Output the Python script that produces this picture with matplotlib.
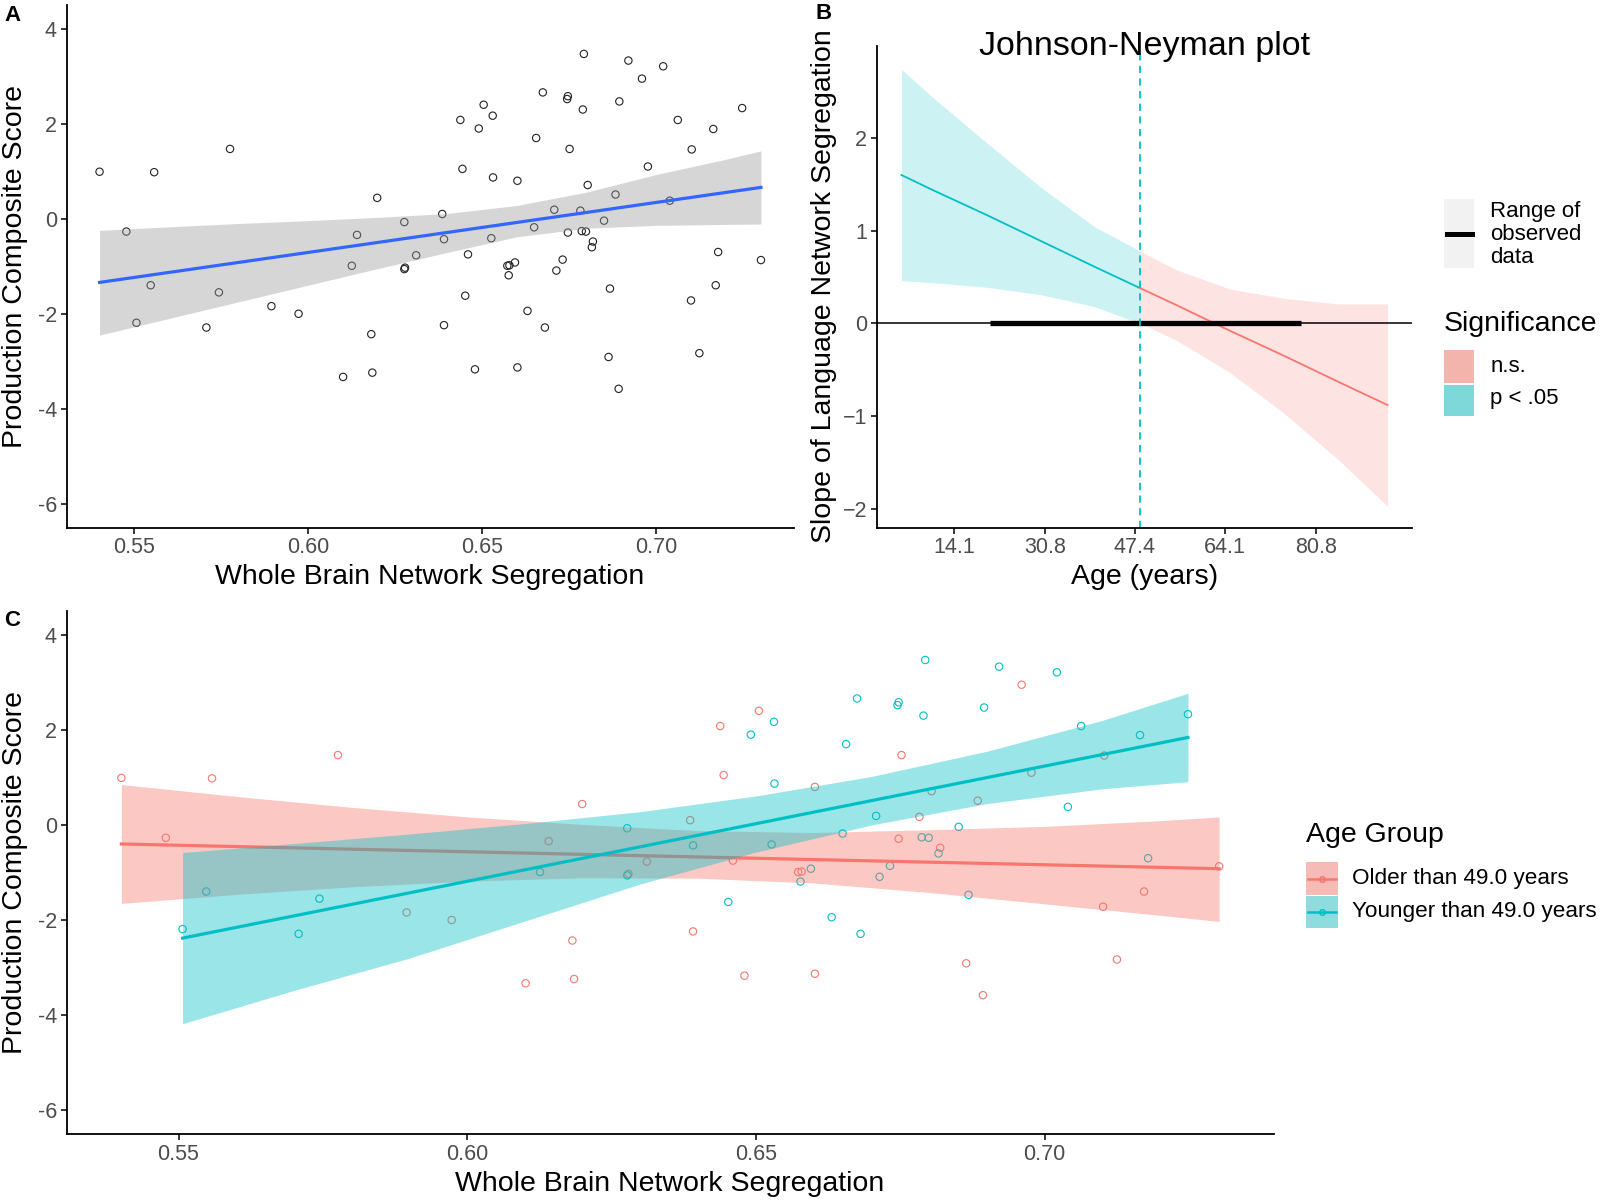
import numpy as np
import matplotlib.pyplot as plt
from matplotlib.patches import Rectangle
from matplotlib.lines import Line2D

plt.rcParams['font.family'] = ['Liberation Sans', 'DejaVu Sans']

# ---- data ----
# whole brain segregation, production composite score, age group
seg = [0.5401, 0.5558, 0.5776, 0.5478, 0.5548, 0.5507, 0.5744, 0.5708, 0.5895, 0.5973,
       0.6199, 0.6141, 0.6126, 0.6277, 0.6311, 0.6277, 0.6279, 0.6386, 0.6391, 0.6391,
       0.6182, 0.6185, 0.6101, 0.6438, 0.6444, 0.6452, 0.6793, 0.6921, 0.7021, 0.6960,
       0.6675, 0.6747, 0.6745, 0.6895, 0.6790, 0.7248, 0.6505, 0.6531, 0.6491, 0.7063,
       0.7165, 0.6656, 0.6752, 0.7103, 0.6977, 0.6532, 0.6602, 0.6804, 0.6884, 0.7040,
       0.6708, 0.6783, 0.6650, 0.6851, 0.6527, 0.6747, 0.6787, 0.6799, 0.6819, 0.6816,
       0.6460, 0.6595, 0.6579, 0.6573, 0.6577, 0.6732, 0.6714, 0.7179, 0.7302, 0.7172,
       0.7101, 0.6868, 0.6631, 0.6681, 0.7125, 0.6864, 0.6480, 0.6602, 0.6893]
score = [0.99, 0.98, 1.47, -0.27, -1.40, -2.19, -1.55, -2.29, -1.84, -2.00,
         0.44, -0.34, -0.99, -0.07, -0.77, -1.06, -1.03, 0.10, -0.43, -2.24,
         -2.43, -3.24, -3.33, 2.08, 1.05, -1.62, 3.47, 3.33, 3.21, 2.95,
         2.66, 2.58, 2.52, 2.47, 2.30, 2.33, 2.40, 2.17, 1.90, 2.08,
         1.89, 1.70, 1.47, 1.46, 1.10, 0.87, 0.80, 0.71, 0.51, 0.38,
         0.19, 0.17, -0.18, -0.04, -0.41, -0.29, -0.26, -0.27, -0.48, -0.60,
         -0.75, -0.92, -0.98, -0.99, -1.19, -0.86, -1.09, -0.70, -0.87, -1.40,
         -1.72, -1.47, -1.94, -2.29, -2.83, -2.91, -3.17, -3.13, -3.58]
group = ['O', 'O', 'O', 'O', 'Y', 'Y', 'Y', 'Y', 'O', 'O',
         'O', 'O', 'Y', 'Y', 'O', 'Y', 'O', 'O', 'Y', 'O',
         'O', 'O', 'O', 'O', 'O', 'Y', 'Y', 'Y', 'Y', 'O',
         'Y', 'Y', 'Y', 'Y', 'Y', 'Y', 'O', 'Y', 'Y', 'Y',
         'Y', 'Y', 'O', 'O', 'O', 'Y', 'O', 'O', 'O', 'Y',
         'Y', 'O', 'Y', 'Y', 'Y', 'O', 'Y', 'Y', 'O', 'Y',
         'O', 'Y', 'O', 'O', 'Y', 'Y', 'Y', 'Y', 'O', 'O',
         'O', 'Y', 'Y', 'Y', 'O', 'O', 'O', 'O', 'O']

# panel A fit and confidence band
fitA_x = [0.5401, 0.7302]
fitA_y = [-1.34, 0.66]
bandA_x = [0.5401, 0.56, 0.58, 0.60, 0.62, 0.64, 0.66, 0.68, 0.70, 0.72, 0.7302]
bandA_hi = [-0.245, -0.17, -0.10, -0.04, 0.03, 0.11, 0.28, 0.56, 0.93, 1.25, 1.43]
bandA_lo = [-2.45, -2.10, -1.75, -1.40, -1.05, -0.71, -0.38, -0.20, -0.14, -0.12, -0.11]

# panel C fits per age group
fitO_x = [0.5401, 0.7302]
fitO_y = [-0.40, -0.92]
bandO_x = [0.5401, 0.56, 0.58, 0.60, 0.62, 0.64, 0.66, 0.68, 0.70, 0.72, 0.7302]
bandO_hi = [0.85, 0.60, 0.37, 0.17, 0.01, -0.12, -0.16, -0.10, -0.03, 0.09, 0.17]
bandO_lo = [-1.65, -1.46, -1.30, -1.18, -1.11, -1.12, -1.22, -1.42, -1.66, -1.90, -2.03]
fitY_x = [0.5507, 0.7248]
fitY_y = [-2.38, 1.84]
bandY_x = [0.5507, 0.57, 0.59, 0.61, 0.63, 0.65, 0.67, 0.69, 0.71, 0.7248]
bandY_hi = [-0.58, -0.39, -0.19, 0.03, 0.28, 0.61, 1.02, 1.55, 2.20, 2.77]
bandY_lo = [-4.18, -3.48, -2.80, -2.02, -1.24, -0.57, 0.00, 0.45, 0.76, 0.91]

# panel B Johnson-Neyman
age = [4.3, 10, 20, 30, 40, 48.4, 55, 65, 75, 85, 94.1]
slope = [1.60, 1.44, 1.17, 0.89, 0.61, 0.38, 0.20, -0.08, -0.35, -0.63, -0.88]
slope_hi = [2.74, 2.44, 1.95, 1.47, 1.04, 0.78, 0.58, 0.37, 0.27, 0.21, 0.21]
slope_lo = [0.46, 0.44, 0.39, 0.31, 0.18, 0.00, -0.18, -0.53, -0.97, -1.47, -1.97]
jn_age = 48.4
obs_range = [20.7, 78.1]
age_ticks = [14.1, 30.8, 47.4, 64.1, 80.8]

RED = '#F8766D'
CYAN = '#00BFC4'
TICKCOL = '#4D4D4D'

W, H = 1603, 1202
fig = plt.figure(figsize=(W / 100, H / 100), dpi=100)


def rect(l, t, r, b):
    return [l / W, 1 - b / H, (r - l) / W, (b - t) / H]


def ftext(x, y, s, **kw):
    return fig.text(x / W, 1 - y / H, s, **kw)


def frect(l, t, r, b, **kw):
    fig.add_artist(Rectangle((l / W, 1 - b / H), (r - l) / W, (b - t) / H,
                             transform=fig.transFigure, **kw))


def fline(x0, x1, y, **kw):
    fig.add_artist(Line2D([x0 / W, x1 / W], [1 - y / H, 1 - y / H],
                          transform=fig.transFigure, **kw))


def style(ax):
    for s in ['top', 'right']:
        ax.spines[s].set_visible(False)
    for s in ['left', 'bottom']:
        ax.spines[s].set_linewidth(1.3)
    ax.tick_params(length=4, width=1.1, pad=3, labelsize=15.5, labelcolor=TICKCOL)


seg = np.array(seg)
score = np.array(score)
isO = np.array([g == 'O' for g in group])

# ---- panel A ----
axA = fig.add_axes(rect(66.5, 5, 794, 527.5))
axA.scatter(seg, score, s=28, facecolors='none', edgecolors='#222222', linewidths=0.8, zorder=1)
axA.fill_between(bandA_x, bandA_lo, bandA_hi, color='#999999', alpha=0.4, linewidth=0, zorder=2)
axA.plot(fitA_x, fitA_y, color='#3366FF', linewidth=2.3, zorder=3)
axA.set_xlim(0.5306, 0.7397)
axA.set_ylim(-6.5, 4.5)
axA.set_xticks([0.55, 0.60, 0.65, 0.70], ['0.55', '0.60', '0.65', '0.70'])
axA.set_yticks([-6, -4, -2, 0, 2, 4], ['-6', '-4', '-2', '0', '2', '4'])
style(axA)

# ---- panel B ----
axB = fig.add_axes(rect(877, 46, 1412, 527.5))
axB.fill_between(age[:6], slope_lo[:6], slope_hi[:6], color=CYAN, alpha=0.2, linewidth=0)
axB.fill_between(age[5:], slope_lo[5:], slope_hi[5:], color=RED, alpha=0.2, linewidth=0)
axB.plot(age[:6], slope[:6], color=CYAN, linewidth=1.3)
axB.plot(age[5:], slope[5:], color=RED, linewidth=1.3)
axB.axhline(0, color='black', linewidth=1.1)
axB.plot(obs_range, [0, 0], color='black', linewidth=3.8, solid_capstyle='butt')
axB.axvline(jn_age, color=CYAN, linewidth=1.3, linestyle=(0, (4, 3)))
axB.set_xlim(-0.2, 98.6)
axB.set_ylim(-2.2, 2.99)
axB.set_xticks(age_ticks, ['14.1', '30.8', '47.4', '64.1', '80.8'])
axB.set_yticks([-2, -1, 0, 1, 2], ['\u22122', '\u22121', '0', '1', '2'])
style(axB)

# ---- panel C ----
axC = fig.add_axes(rect(66.5, 611, 1274, 1134))
axC.scatter(seg[isO], score[isO], s=28, facecolors='none', edgecolors=RED, linewidths=0.8, zorder=1)
axC.scatter(seg[~isO], score[~isO], s=28, facecolors='none', edgecolors=CYAN, linewidths=0.8, zorder=1)
axC.fill_between(bandO_x, bandO_lo, bandO_hi, color=RED, alpha=0.4, linewidth=0, zorder=2)
axC.plot(fitO_x, fitO_y, color=RED, linewidth=2.3, zorder=3)
axC.fill_between(bandY_x, bandY_lo, bandY_hi, color=CYAN, alpha=0.4, linewidth=0, zorder=4)
axC.plot(fitY_x, fitY_y, color=CYAN, linewidth=2.3, zorder=5)
axC.set_xlim(0.5306, 0.7397)
axC.set_ylim(-6.5, 4.5)
axC.set_xticks([0.55, 0.60, 0.65, 0.70], ['0.55', '0.60', '0.65', '0.70'])
axC.set_yticks([-6, -4, -2, 0, 2, 4], ['-6', '-4', '-2', '0', '2', '4'])
style(axC)

# ---- titles, labels ----
lab = dict(fontsize=20.5, ha='center', va='center')
ftext(430, 577, 'Whole Brain Network Segregation', **lab)
ftext(1145, 577, 'Age (years)', **lab)
ftext(670, 1184, 'Whole Brain Network Segregation', **lab)
ftext(15.5, 267, 'Production Composite Score', rotation=90, **lab)
ftext(824, 286, 'Slope of Language Network Segregation', rotation=90, **lab)
ftext(15.5, 872, 'Production Composite Score', rotation=90, **lab)
ftext(1145, 46, 'Johnson-Neyman plot', fontsize=24.5, ha='center', va='center')

pan = dict(fontsize=16, fontweight='bold', ha='center', va='center')
ftext(12.5, 15.5, 'A', **pan)
ftext(824, 13.5, 'B', **pan)
ftext(12.5, 620.5, 'C', **pan)

# ---- legend panel B ----
frect(1443.5, 199, 1474, 268, color='#F2F2F2', linewidth=0)
fline(1446.5, 1471.5, 233.5, color='black', linewidth=3.6)
ftext(1490.5, 234.5, 'Range of\nobserved\ndata', fontsize=16, ha='left', va='center', linespacing=1.15)
ftext(1443.5, 324, 'Significance', fontsize=20.5, ha='left', va='center')
frect(1443.5, 350.5, 1474, 383.5, color='#F4B4AE', linewidth=0)
frect(1443.5, 384.5, 1474, 416, color='#7ED8DA', linewidth=0)
ftext(1490.5, 367, 'n.s.', fontsize=16, ha='left', va='center')
ftext(1490.5, 399, 'p < .05', fontsize=16, ha='left', va='center')

# ---- legend panel C ----
ftext(1305.5, 835, 'Age Group', fontsize=20.5, ha='left', va='center')
frect(1305.5, 862, 1338, 895, color='#F6BBB6', linewidth=0)
frect(1305.5, 896, 1338, 928, color='#8FDCDE', linewidth=0)
fline(1308, 1335.5, 878.5, color=RED, linewidth=1.8)
fline(1308, 1335.5, 912, color=CYAN, linewidth=1.8)
fig.add_artist(Line2D([1321.7 / W], [1 - 878.5 / H], marker='o', markersize=4, markerfacecolor='none',
                      markeredgecolor=RED, transform=fig.transFigure))
fig.add_artist(Line2D([1321.7 / W], [1 - 912 / H], marker='o', markersize=4, markerfacecolor='none',
                      markeredgecolor=CYAN, transform=fig.transFigure))
ftext(1352.5, 878.5, 'Older than 49.0 years', fontsize=16.2, ha='left', va='center')
ftext(1352.5, 911, 'Younger than 49.0 years', fontsize=16.2, ha='left', va='center')

fig.savefig('out.png', dpi=100)
